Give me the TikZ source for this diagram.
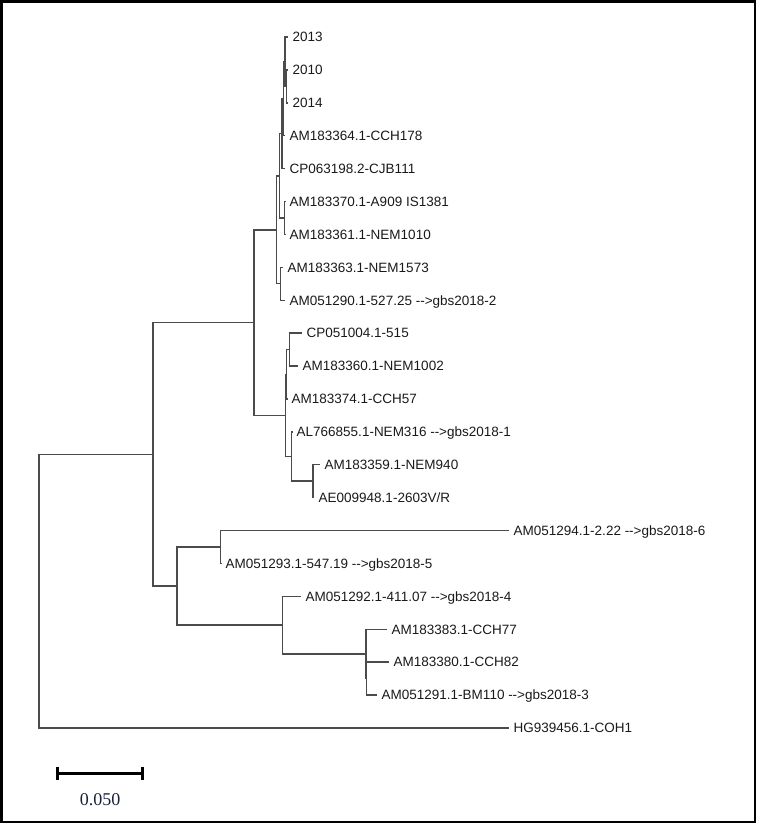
\documentclass[tikz,border=0pt]{standalone}
\usepackage{fontspec}
\setmainfont{Liberation Sans}
\newfontfamily\barnumfont{Liberation Serif}
\usetikzlibrary{arrows.meta}
\definecolor{branchgray}{RGB}{75,75,75}
\definecolor{labelblack}{RGB}{25,25,25}
\definecolor{barnavy}{RGB}{25,32,55}
\newcommand{\gbsarrow}{\mbox{-}\mbox{-}>}

\begin{document}
\begin{tikzpicture}[x=1pt, y=-1pt,
  leaf/.style={anchor=west, inner xsep=4.5pt, inner ysep=0pt, text height=9.7pt, text depth=0pt, font=\fontsize{13.5}{15}\selectfont, text=labelblack},
  branch/.style={draw=branchgray, line width=1.4pt},
  scalebar/.style={line width=3pt, {Bar[width=13pt]}-{Bar[width=13pt]}}
]
  \useasboundingbox (0,0) rectangle (756,823);
  \draw[line width=2.5pt] (1.25,1.25) rectangle (754.75,821.75);

  % ── Leaves ──
  \node[leaf] (l2013) at (288,37) {2013};
  \node[leaf] (l2010) at (288,69.9) {2010};
  \node[leaf] (l2014) at (288,102.8) {2014};
  \node[leaf] (l183364) at (285,135.7) {AM183364.1-CCH178};
  \node[leaf] (l063198) at (285,168.6) {CP063198.2-CJB111};
  \node[leaf] (l183370) at (285,201.5) {AM183370.1-A909 IS1381};
  \node[leaf] (l183361) at (285,234.4) {AM183361.1-NEM1010};
  \node[leaf] (l183363) at (283,267.3) {AM183363.1-NEM1573};
  \node[leaf] (l051290) at (285,300.2) {AM051290.1-527.25 \gbsarrow gbs2018-2};
  \node[leaf] (l051004) at (302,333.1) {CP051004.1-515};
  \node[leaf] (l183360) at (298,366) {AM183360.1-NEM1002};
  \node[leaf] (l183374) at (287,398.9) {AM183374.1-CCH57};
  \node[leaf] (l766855) at (292,431.8) {AL766855.1-NEM316 \gbsarrow gbs2018-1};
  \node[leaf] (l183359) at (320,464.7) {AM183359.1-NEM940};
  \node[leaf] (l009948) at (314,497.6) {AE009948.1-2603V/R};
  \node[leaf] (l051294) at (509,530.5) {AM051294.1-2.22 \gbsarrow gbs2018-6};
  \node[leaf] (l051293) at (221,563.4) {AM051293.1-547.19 \gbsarrow gbs2018-5};
  \node[leaf] (l051292) at (301,596.3) {AM051292.1-411.07 \gbsarrow gbs2018-4};
  \node[leaf] (l183383) at (387,629.2) {AM183383.1-CCH77};
  \node[leaf] (l183380) at (389,662.1) {AM183380.1-CCH82};
  \node[leaf] (l051291) at (377,695) {AM051291.1-BM110 \gbsarrow gbs2018-3};
  \node[leaf] (l939456) at (509,727.9) {HG939456.1-COH1};

  % ── Inner nodes ──
  \coordinate (nH) at (286.5,86.35);
  \coordinate (nG) at (285,61.7);
  \coordinate (nF) at (283.5,98.7);
  \coordinate (nD) at (282,133.65);
  \coordinate (nE) at (284.5,217.95);
  \coordinate (nB) at (279.5,175.8);
  \coordinate (nC) at (280.7,283.75);
  \coordinate (nA) at (276.7,229.8);
  \coordinate (nSc) at (289.3,349.55);
  \coordinate (nSa) at (286.7,374.2);
  \coordinate (nX) at (313,481.15);
  \coordinate (nSb) at (291.7,456.5);
  \coordinate (nS) at (285.7,415.35);
  \coordinate (nT) at (254,322.6);
  \coordinate (nP) at (220.7,546.95);
  \coordinate (nW) at (366.5,678.55);
  \coordinate (nV) at (366,653.9);
  \coordinate (nQ) at (282.3,625.1);
  \coordinate (nL) at (177,586.0);
  \coordinate (nU) at (153,454.3);
  \coordinate (root) at (39,591.1);

  % ── Branches ──
  \draw[branch] (l2010.west) -| (nH) |- (l2014.west);
  \draw[branch] (l2013.west) -| (nG) |- (nH);
  \draw[branch] (nG) -| (nF) |- (l183364.west);
  \draw[branch] (nF) -| (nD) |- (l063198.west);
  \draw[branch] (l183370.west) -| (nE) |- (l183361.west);
  \draw[branch] (nD) -| (nB) |- (nE);
  \draw[branch] (l183363.west) -| (nC) |- (l051290.west);
  \draw[branch] (nB) -| (nA) |- (nC);
  \draw[branch] (l051004.west) -| (nSc) |- (l183360.west);
  \draw[branch] (nSc) -| (nSa) |- (l183374.west);
  \draw[branch] (l183359.west) -| (nX) |- (l009948.west);
  \draw[branch] (l766855.west) -| (nSb) |- (nX);
  \draw[branch] (nSa) -| (nS) |- (nSb);
  \draw[branch] (nA) -| (nT) |- (nS);
  \draw[branch] (l051294.west) -| (nP) |- (l051293.west);
  \draw[branch] (l183380.west) -| (nW) |- (l051291.west);
  \draw[branch] (l183383.west) -| (nV) |- (nW);
  \draw[branch] (l051292.west) -| (nQ) |- (nV);
  \draw[branch] (nP) -| (nL) |- (nQ);
  \draw[branch] (nT) -| (nU) |- (nL);
  \draw[branch] (nU) -| (root) |- (l939456.west);

  % ── Scale bar ──
  \coordinate (barl) at (56,773);
  \coordinate (barr) at (144,773);
  \draw[scalebar] (barl) -- (barr);
  \node[font=\barnumfont\fontsize{18}{20}\selectfont, text=barnavy] (barlbl) at (100,800) {0.050};
\end{tikzpicture}
\end{document}
